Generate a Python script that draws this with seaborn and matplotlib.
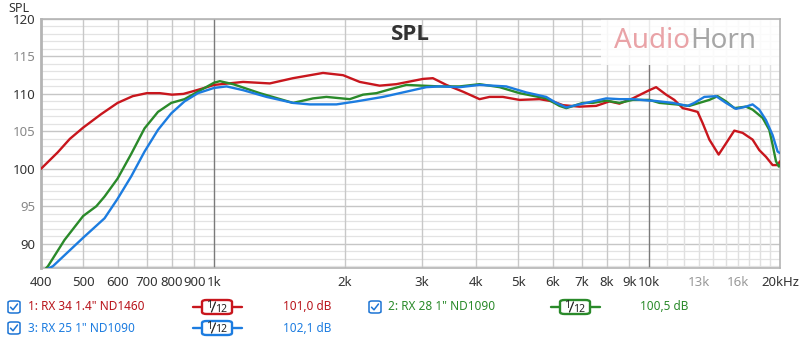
import matplotlib
matplotlib.use("Agg")
import matplotlib.pyplot as plt
import seaborn as sns
import pandas as pd
from matplotlib.patches import FancyBboxPatch, Rectangle
from matplotlib.lines import Line2D

# ---------------- data ----------------
freq_red = [400, 437, 466, 500, 550, 600, 650, 700, 750, 800, 850, 900, 950, 1000,
            1166, 1343, 1519, 1780, 1979, 2162, 2402, 2624, 3020, 3184, 3420, 3733,
            4077, 4298, 4612, 5037, 5598, 6008, 6336, 6918, 7556, 8108, 8549, 9171,
            10016, 10380, 10945, 11433, 11948, 12376, 12932, 13280, 13760, 14454,
            15029, 15703, 16408, 17298, 17920, 18570, 19233, 19749, 20000]
spl_red = [100.0, 102.2, 104.0, 105.5, 107.3, 108.8, 109.7, 110.1, 110.1, 109.9, 110.0,
           110.4, 110.8, 111.2, 111.6, 111.4, 112.1, 112.8, 112.5, 111.6, 111.1, 111.3,
           112.0, 112.1, 111.2, 110.3, 109.3, 109.6, 109.6, 109.2, 109.3, 109.0, 108.5,
           108.3, 108.4, 109.0, 108.7, 109.4, 110.5, 110.9, 109.9, 109.2, 108.1, 107.9,
           107.6, 106.1, 103.9, 101.9, 103.4, 105.1, 104.8, 103.9, 102.5, 101.6, 100.5,
           100.5, 101.0]

freq_green = [400, 415, 453, 500, 536, 560, 600, 645, 692, 743, 797, 855, 918, 1000,
              1031, 1106, 1274, 1519, 1688, 1812, 2050, 2200, 2361, 2533, 2767, 3020,
              3300, 3668, 4077, 4533, 5037, 5800, 6224, 6451, 7041, 7424, 7969, 8549,
              9171, 10016, 10565, 11535, 12376, 13052, 13760, 14375, 15029, 15703,
              16703, 17298, 18240, 18897, 19233, 19580, 19880, 20000]
spl_green = [86.0, 87.0, 90.5, 93.7, 95.0, 96.3, 98.7, 102.0, 105.4, 107.6, 108.8,
             109.3, 110.3, 111.5, 111.7, 111.3, 110.1, 108.8, 109.4, 109.6, 109.3,
             109.9, 110.1, 110.6, 111.2, 111.1, 111.0, 111.0, 111.3, 110.9, 110.1,
             109.4, 108.4, 108.1, 108.8, 108.8, 109.1, 108.8, 109.2, 109.2, 108.8,
             108.6, 108.4, 108.8, 109.2, 109.7, 109.0, 108.1, 108.3, 107.9, 106.8,
             105.2, 103.2, 101.0, 100.3, 100.5]

freq_blue = [400, 426, 500, 560, 600, 645, 692, 743, 797, 855, 918, 1000, 1068, 1166,
             1320, 1519, 1659, 1911, 2124, 2445, 2767, 3076, 3300, 3668, 4077, 4695,
             5219, 5800, 6117, 6451, 7169, 7969, 8549, 9171, 10016, 10192, 11333,
             12264, 12708, 13399, 14254, 15029, 15842, 16703, 17298, 17920, 18570,
             19233, 19749, 20000]
spl_blue = [86.2, 87.0, 90.8, 93.4, 96.0, 99.0, 102.3, 105.2, 107.4, 109.0, 110.1,
            110.8, 111.0, 110.5, 109.6, 108.8, 108.6, 108.6, 109.0, 109.6, 110.3,
            110.9, 111.0, 110.9, 111.2, 111.0, 110.2, 109.6, 108.8, 108.2, 108.8,
            109.4, 109.3, 109.3, 109.1, 109.1, 108.8, 108.4, 108.8, 109.6, 109.7,
            108.8, 108.0, 108.3, 108.6, 107.9, 106.5, 104.5, 102.3, 102.1]

series_names = ['1: RX 34 1.4" ND1460', '2: RX 28 1" ND1090', '3: RX 25 1" ND1090']
series_values = ['101,0 dB', '100,5 dB', '102,1 dB']
series_colors = ['#c8161d', '#2a8a2a', '#1c7ce0']
text_colors = ['#b8141b', '#2a8a2a', '#1c7ce0']

xtick_vals = [400, 500, 600, 700, 800, 900, 1000, 2000, 3000, 4000, 5000, 6000,
              7000, 8000, 9000, 10000, 13000, 16000, 20000]
xtick_labels = ['400', '500', '600', '700', '800', '900', '1k', '2k', '3k', '4k',
                '5k', '6k', '7k', '8k', '9k', '10k', '13k', '16k', '20kHz']
ytick_vals = [90, 95, 100, 105, 110, 115, 120]

# ---------------- figure ----------------
sns.set_theme(style="white")
plt.rcParams['font.family'] = ['Noto Sans', 'DejaVu Sans']

fig = plt.figure(figsize=(8, 3.4), dpi=100)
ax = fig.add_axes([41 / 800, 1 - 267.7 / 340, (780 - 41) / 800, (267.7 - 19) / 340])

ax.set_xscale('log')
ax.set_xlim(400, 20000)
ax.set_ylim(86.8, 120)

# grid lines
for db in range(87, 121):
    if db % 5 == 0:
        ax.axhline(db, color='#c6c6c6', lw=1.0, zorder=0)
    else:
        ax.axhline(db, color='#e3e3e3', lw=0.9, zorder=0)
for f in [500, 600, 700, 800, 900, 2000, 3000, 4000, 5000, 6000, 7000, 8000, 9000]:
    ax.axvline(f, color='#c8c8c8', lw=1.0, zorder=0)
for f in range(11000, 20000, 1000):
    ax.axvline(f, color='#e0e0e0', lw=1.0, zorder=0)
for f in [1000, 10000]:
    ax.axvline(f, color='#7a7a7a', lw=1.0, zorder=0.5)

# watermark box
ax.add_patch(Rectangle((0.758, 0.815), 0.245, 0.19, transform=ax.transAxes,
                       facecolor='white', alpha=0.85, edgecolor='none', zorder=1))

frames = []
for name, fr, sp in zip(series_names, [freq_red, freq_green, freq_blue],
                        [spl_red, spl_green, spl_blue]):
    frames.append(pd.DataFrame({'freq': fr, 'spl': sp, 'series': name}))
df = pd.concat(frames, ignore_index=True)
for name, col in zip(series_names, series_colors):
    sns.lineplot(data=df[df['series'] == name], x='freq', y='spl', color=col,
                 lw=1.7, ax=ax, sort=False, zorder=3, legend=False)

ax.set_xlabel('')
ax.set_ylabel('')

ax.set_xticks(xtick_vals)
ax.set_xticklabels(xtick_labels)
ax.xaxis.set_minor_locator(matplotlib.ticker.NullLocator())
ax.set_yticks(ytick_vals)
ax.set_yticklabels([str(v) for v in ytick_vals])
ax.tick_params(axis='both', length=0, labelsize=9.5, colors='#333333')
ax.tick_params(axis='x', pad=6)
ax.tick_params(axis='y', pad=4)
for lbl, v in zip(ax.get_xticklabels(), xtick_vals):
    lbl.set_color('#999999' if v in (13000, 16000) else '#333333')
for lbl, v in zip(ax.get_yticklabels(), ytick_vals):
    lbl.set_color('#888888' if v % 10 == 5 else '#333333')

for s in ax.spines.values():
    s.set_color('#b4b4b4')
    s.set_linewidth(1.2)
ax.spines['left'].set_linewidth(2)

# titles
fig.text(410 / 800, 1 - 35 / 340, 'SPL', ha='center', va='center', fontsize=16,
         fontweight='bold', color='#333333', family=['Open Sans', 'DejaVu Sans'])
fig.text(19 / 800, 1 - 9 / 340, 'SPL', ha='center', va='center', fontsize=9,
         color='#333333')
t1 = fig.text(614 / 800, 1 - 41 / 340, 'Audio', ha='left', va='center', fontsize=20,
              color='#e9a3a7')
fig.canvas.draw()
bb = t1.get_window_extent()
fig.text(bb.x1 / 800, 1 - 41 / 340, 'Horn', ha='left', va='center', fontsize=20,
         color='#a6a6a6')


# ---------------- legend area ----------------
def checkbox(xc, yc):
    w, h = 12, 12
    fig.patches.append(FancyBboxPatch(((xc - w / 2) / 800, 1 - (yc + h / 2) / 340),
                                      w / 800, h / 340,
                                      boxstyle='round,pad=0,rounding_size=0.004',
                                      transform=fig.transFigure, facecolor='white',
                                      edgecolor='#1c74d4', lw=1.1))
    xs = [xc - 3.5, xc - 1, xc + 3.5]
    ys = [yc + 0.2, yc + 2.8, yc - 3]
    fig.lines.append(Line2D([x / 800 for x in xs], [1 - y / 340 for y in ys],
                            transform=fig.transFigure, color='#1c74d4', lw=1.1))


def filt(xc, yc, col):
    fig.lines.append(Line2D([(xc - 24) / 800, (xc + 25) / 800], [1 - yc / 340] * 2,
                            transform=fig.transFigure, color=col, lw=1.7))
    w, h = 30, 14
    fig.patches.append(FancyBboxPatch(((xc - w / 2) / 800, 1 - (yc + h / 2) / 340),
                                      w / 800, h / 340,
                                      boxstyle='round,pad=0,rounding_size=0.006',
                                      transform=fig.transFigure, facecolor='white',
                                      edgecolor=col, lw=1.7, zorder=5))
    fig.text((xc - 7.5) / 800, 1 - (yc - 1.5) / 340, '1', ha='center', va='center',
             fontsize=8, color='#222222', zorder=6)
    fig.lines.append(Line2D([(xc - 5.5) / 800, (xc - 1.5) / 800],
                            [1 - (yc + 5) / 340, 1 - (yc - 5) / 340],
                            transform=fig.transFigure, color='#222222', lw=0.9,
                            zorder=6))
    fig.text((xc + 4.5) / 800, 1 - (yc + 2.0) / 340, '12', ha='center', va='center',
             fontsize=7.5, color='#222222', zorder=6)


rows = [(14, 307, 28, 217, 283), (375, 307, 388, 575, 640), (14, 328, 28, 217, 283)]
for (cbx, ry, tx, fx, vx), name, val, col, tcol in zip(rows, series_names, series_values,
                                                         series_colors, text_colors):
    checkbox(cbx, ry)
    fig.text(tx / 800, 1 - ry / 340, name, ha='left', va='center', fontsize=8.5,
             color=tcol)
    filt(fx, ry, col)
    fig.text(vx / 800, 1 - ry / 340, val, ha='left', va='center', fontsize=8.5,
             color=tcol)

fig.savefig('out.png', dpi=100, facecolor='white')
